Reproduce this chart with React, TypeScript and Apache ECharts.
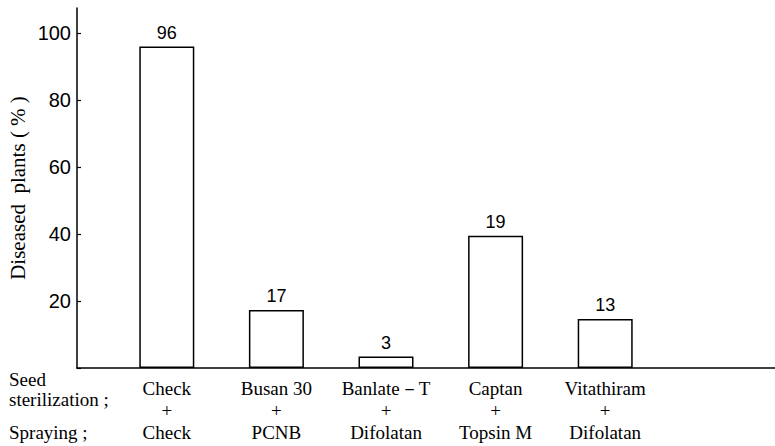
import React, { useEffect, useRef } from "react";
import * as echarts from "echarts";

const categories = [
  "Check\n+\nCheck",
  "Busan 30\n+\nPCNB",
  "Banlate－T\n+\nDifolatan",
  "Captan\n+\nTopsin M",
  "Vitathiram\n+\nDifolatan",
];
const barHeights = [96, 17.3, 3.4, 39.5, 14.6];
const labelValues = ["96", "17", "3", "19", "13"];
const yTicks = [20, 40, 60, 80, 100];

export default function App() {
  const ref = useRef<HTMLDivElement>(null);
  useEffect(() => {
    if (!ref.current) return;
    const chart = echarts.init(ref.current, null, { renderer: "svg" });
    const numFont = "'Liberation Sans', Arial, sans-serif";
    const serif = "'Liberation Serif', 'Times New Roman', serif";
    chart.setOption({
      animation: false,
      backgroundColor: "#ffffff",
      grid: [
        { left: 112, right: 115, top: 8, height: 360 },
        { left: 77, right: 0, top: 8, height: 360 },
      ],
      xAxis: [
        {
          type: "category",
          gridIndex: 0,
          data: categories,
          axisLine: { show: false },
          axisTick: { show: false },
          axisLabel: {
            color: "#000",
            fontFamily: serif,
            fontSize: 19,
            lineHeight: 22,
            margin: 9,
            interval: 0,
          },
        },
        {
          type: "value",
          gridIndex: 1,
          min: 0,
          max: 1,
          axisLine: { show: true, lineStyle: { color: "#000", width: 1.5 } },
          axisTick: { show: false },
          axisLabel: { show: false },
          splitLine: { show: false },
        },
      ],
      yAxis: [
        {
          type: "value",
          gridIndex: 0,
          min: 0,
          max: 107.5,
          interval: 20,
          offset: 35,
          axisLine: { show: true, lineStyle: { color: "#000", width: 1.5 } },
          axisTick: { show: true, inside: true, length: 4, lineStyle: { color: "#000", width: 1.2 } },
          axisLabel: {
            color: "#000",
            fontFamily: numFont,
            fontSize: 20,
            margin: 6,
            showMaxLabel: false,
            formatter: (v: number) => (yTicks.includes(v) ? String(v) : ""),
          },
          splitLine: { show: false },
        },
        {
          type: "value",
          gridIndex: 1,
          show: false,
        },
      ],
      series: [
        {
          type: "bar",
          xAxisIndex: 0,
          yAxisIndex: 0,
          data: barHeights,
          barWidth: 55,
          itemStyle: { color: "#fff", borderColor: "#000", borderWidth: 1.5 },
          label: {
            show: true,
            position: "top",
            distance: 5,
            color: "#000",
            fontFamily: numFont,
            fontSize: 18,
            formatter: (p: any) => labelValues[p.dataIndex],
          },
        },
      ],
      graphic: [
        {
          type: "text",
          x: 18,
          y: 188,
          rotation: Math.PI / 2,
          style: {
            text: "Diseased  plants ( % )",
            fill: "#000",
            font: `21px ${serif}`,
            align: "center",
            verticalAlign: "middle",
          },
        },
        {
          type: "text",
          x: 9,
          y: 379,
          style: {
            text: "Seed",
            fill: "#000",
            font: `19px ${serif}`,
            verticalAlign: "middle",
          },
        },
        {
          type: "text",
          x: 9,
          y: 399,
          style: {
            text: "sterilization ;",
            fill: "#000",
            font: `19px ${serif}`,
            verticalAlign: "middle",
          },
        },
        {
          type: "text",
          x: 9,
          y: 432,
          style: {
            text: "Spraying ;",
            fill: "#000",
            font: `19px ${serif}`,
            verticalAlign: "middle",
          },
        },
      ],
    });
    return () => chart.dispose();
  }, []);
  return (
    <div
      ref={ref}
      style={{ position: "absolute", left: 0, top: 0, width: 775, height: 446 }}
    />
  );
}
